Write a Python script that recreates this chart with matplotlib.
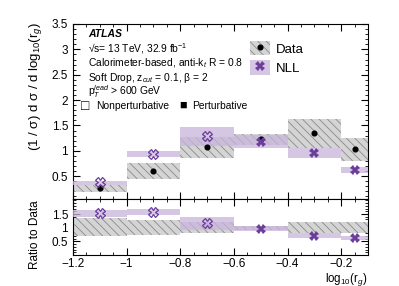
import numpy as np
import matplotlib
matplotlib.use("Agg")
import matplotlib.pyplot as plt
from matplotlib.patches import Patch
from matplotlib.lines import Line2D
from matplotlib.ticker import MultipleLocator

plt.rcParams['font.family'] = ['Liberation Sans', 'DejaVu Sans']
plt.rcParams['mathtext.fontset'] = 'custom'
plt.rcParams['mathtext.rm'] = 'Liberation Sans'
plt.rcParams['mathtext.it'] = 'Liberation Sans:italic'
plt.rcParams['mathtext.bf'] = 'Liberation Sans:bold'
plt.rcParams['hatch.color'] = '#8a8a8a'
plt.rcParams['hatch.linewidth'] = 0.6

# ---- data ----
bin_edges = [-1.2, -1.0, -0.8, -0.6, -0.4, -0.2, -0.1]
perturbative = [False, False, False, True, True, True]

data_val = [0.26, 0.60, 1.08, 1.23, 1.35, 1.03]
data_lo = [0.18, 0.44, 0.86, 1.12, 1.06, 0.80]
data_hi = [0.33, 0.76, 1.27, 1.33, 1.62, 1.25]

nll_val = [0.38, 0.935, 1.29, 1.18, 0.955, 0.62]
nll_lo = [0.33, 0.87, 1.10, 1.06, 0.86, 0.56]
nll_hi = [0.41, 1.00, 1.47, 1.31, 1.06, 0.69]

ratio_data_lo = [0.69, 0.74, 0.81, 0.93, 0.79, 0.81]
ratio_data_hi = [1.35, 1.29, 1.22, 1.05, 1.20, 1.21]
ratio_nll_val = [1.54, 1.58, 1.17, 0.95, 0.71, 0.63]
ratio_nll_lo = [1.40, 1.46, 0.93, 0.87, 0.63, 0.55]
ratio_nll_hi = [1.64, 1.68, 1.38, 1.07, 0.79, 0.71]

edges = np.array(bin_edges)
centers = 0.5 * (edges[:-1] + edges[1:])
widths = np.diff(edges)

grey = '#d4d4d4'
purple_band = '#c8b4dc'
purple = '#6a3d9a'
hatch = '\\\\\\\\'

W, H = 399, 286
fig = plt.figure(figsize=(W / 100, H / 100), dpi=100)
ax = fig.add_axes([73 / W, 1 - 199 / H, 295 / W, 175 / H])
axr = fig.add_axes([73 / W, 1 - 255 / H, 295 / W, 56 / H], sharex=ax)


def draw(a, dlo, dhi, nval, nlo, nhi, dval=None):
    dlo = np.array(dlo); dhi = np.array(dhi)
    nlo = np.array(nlo); nhi = np.array(nhi)
    a.bar(centers, dhi - dlo, bottom=dlo, width=widths, color=grey,
          hatch=hatch, edgecolor='#8a8a8a', linewidth=0, zorder=2)
    a.bar(centers, nhi - nlo, bottom=nlo, width=widths, color=purple_band,
          alpha=0.75, linewidth=0, zorder=3)
    if dval is not None:
        a.plot(centers, dval, 'o', color='black', ms=3.4, zorder=5)
    for c, v, p in zip(centers, nval, perturbative):
        if p:
            a.plot([c], [v], 'X', color=purple, ms=6.5, mew=0, zorder=6)
        else:
            a.plot([c], [v], 'X', mfc='none', mec=purple, ms=7, mew=0.9, zorder=6)


draw(ax, data_lo, data_hi, nll_val, nll_lo, nll_hi, data_val)
draw(axr, ratio_data_lo, ratio_data_hi, ratio_nll_val, ratio_nll_lo, ratio_nll_hi)

ax.set_xlim(-1.2, -0.1)
ax.set_ylim(0.05, 3.5)
axr.set_ylim(0, 2.05)

for a in (ax, axr):
    a.tick_params(which='both', direction='in', top=True, right=True, labelsize=8.5)
    a.tick_params(which='major', length=5, width=0.8)
    a.tick_params(which='minor', length=2.5, width=0.6)
    a.xaxis.set_major_locator(MultipleLocator(0.2))
    a.xaxis.set_minor_locator(MultipleLocator(0.05))
    for s in a.spines.values():
        s.set_linewidth(0.8)
axr.tick_params(axis='x', pad=2.5)
ax.yaxis.set_minor_locator(MultipleLocator(0.1))
axr.yaxis.set_minor_locator(MultipleLocator(0.1))
ax.tick_params(labelbottom=False)
ax.set_yticks([0.5, 1, 1.5, 2, 2.5, 3, 3.5])
ax.set_yticklabels(['0.5', '1', '1.5', '2', '2.5', '3', '3.5'])
axr.set_yticks([0.5, 1, 1.5])
axr.set_yticklabels(['0.5', '1', '1.5'])
axr.set_xticks([-1.2, -1.0, -0.8, -0.6, -0.4, -0.2])
axr.set_xticklabels(['\u22121.2', '\u22121', '\u22120.8', '\u22120.6', '\u22120.4', '\u22120.2'])

fig.text(35 / W, 1 - 22 / H, '(1 / \u03c3) d \u03c3 / d log$_{10}$(r$_{g}$)', fontsize=9.5,
         rotation=90, ha='center', va='top')
fig.text(35 / W, 1 - 200 / H, 'Ratio to Data', fontsize=8.5,
         rotation=90, ha='center', va='top')
fig.text(368 / W, 1 - 270.5 / H, 'log$_{10}$(r$_{g}$)', fontsize=8.3,
         ha='right', va='top')

# annotations
tx = 88 / W
fs = 7.4
fig.text(tx, 1 - 34 / H, 'ATLAS', fontsize=7.5, fontweight='bold', style='italic', va='center')
fig.text(tx, 1 - 49 / H, '\u221as= 13 TeV, 32.9 fb$^{-1}$', fontsize=fs, va='center')
fig.text(tx, 1 - 63 / H, 'Calorimeter-based, anti-k$_{t}$ R = 0.8', fontsize=fs, va='center')
fig.text(tx, 1 - 78 / H, 'Soft Drop, z$_{cut}$ = 0.1, \u03b2 = 2', fontsize=fs, va='center')
fig.text(tx, 1 - 92 / H, 'p$_{T}^{lead}$ > 600 GeV', fontsize=fs, va='center')
fig.text(81 / W, 1 - 106 / H, '\u25a1', fontsize=10, va='center')
fig.text(96 / W, 1 - 106 / H, 'Nonperturbative', fontsize=fs, va='center')
fig.text(179 / W, 1 - 106 / H, '\u25a0', fontsize=9, va='center')
fig.text(192 / W, 1 - 106 / H, 'Perturbative', fontsize=fs, va='center')

h_data = (Patch(facecolor=grey, hatch=hatch, edgecolor='#8a8a8a', linewidth=0),
          Line2D([], [], marker='o', color='black', ls='none', ms=3.4))
h_nll = (Patch(facecolor=purple_band, alpha=0.75, linewidth=0),
         Line2D([], [], marker='X', color=purple, ls='none', ms=6.5, mew=0))
ax.legend([h_data, h_nll], ['Data', 'NLL'], loc='upper left',
          bbox_to_anchor=(0.57, 0.955), frameon=False, fontsize=9.5,
          handlelength=1.5, handleheight=1.3, handletextpad=0.4,
          labelspacing=0.35, borderpad=0.2)

fig.savefig('out.png', dpi=100)
